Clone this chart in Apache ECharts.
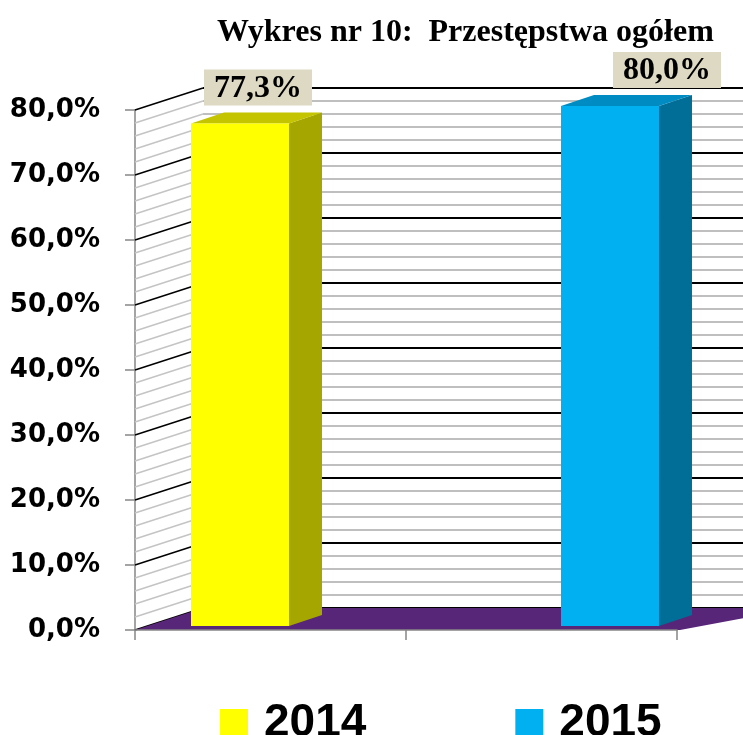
<!DOCTYPE html>
<html>
<head>
<meta charset="utf-8">
<script src="https://cdn.jsdelivr.net/npm/echarts@6/dist/echarts.min.js"></script>
<style>
  html, body { margin: 0; padding: 0; background: #fff; }
  #chart { width: 743px; height: 735px; }
</style>
</head>
<body>
<div id="chart"></div>
<script>
// dane wykresu
const categories = ['2014', '2015'];
const values = [77.3, 80.0];
const valueLabels = ['77,3%', '80,0%'];
const yTicks = [0, 10, 20, 30, 40, 50, 60, 70, 80];
// linie siatki na ścianach (co 2%)
const wallLines = [0, 2, 4, 6, 8, 10, 12, 14, 16, 18, 20, 22, 24, 26, 28, 30, 32, 34, 36, 38,
  40, 42, 44, 46, 48, 50, 52, 54, 56, 58, 60, 62, 64, 66, 68, 70, 72, 74, 76, 78, 80];

// style słupków 3D
const barColors = [
  { front: '#FFFF00', side: '#A6A600', top: '#C4C400' },
  { front: '#00B0F0', side: '#006E96', top: '#008CC2' },
];
const labelShift = [18, 57];
const DEPTH = [68, -22]; // głębokość ścian
const BAR_DEPTH = [33, -11];
const BAR_LIFT = 4;
const BAR_W = 98;

const chart = echarts.init(document.getElementById('chart'));

function wallItem(params, api) {
  const cs = params.coordSys;
  const v = api.value(1);
  const y = api.coord([0, v])[1];
  const x0 = cs.x;
  const major = v % 10 === 0;
  const children = [
    {
      type: 'line',
      z2: 1,
      shape: { x1: x0, y1: y, x2: x0 + DEPTH[0], y2: y + DEPTH[1] },
      style: { stroke: major ? '#000' : '#C4C4C4', lineWidth: 1.5 },
    },
    {
      type: 'line',
      z2: 1,
      shape: { x1: x0 + DEPTH[0], y1: y + DEPTH[1], x2: x0 + cs.width + 120, y2: y + DEPTH[1] },
      style: { stroke: major ? '#000' : '#BFBFBF', lineWidth: 2 },
    },
  ];
  if (v === 0) {
    children.push({
      type: 'polygon',
      z2: 5,
      shape: {
        points: [
          [x0, y],
          [x0 + DEPTH[0], y + DEPTH[1]],
          [x0 + cs.width + 120, y + DEPTH[1]],
          [x0 + cs.width + 3, y],
        ],
      },
      style: { fill: '#582678' },
    });
  }
  return { type: 'group', children: children };
}

function barItem(idx) {
  return function (params, api) {
    const c = barColors[idx];
    const base = api.coord([api.value(0), 0]);
    const top = api.coord([api.value(0), api.value(1)]);
    const l = base[0] - BAR_W / 2;
    const r = base[0] + BAR_W / 2;
    const yt = top[1] - BAR_LIFT;
    const yb = base[1] - BAR_LIFT;
    const dx = BAR_DEPTH[0];
    const dy = BAR_DEPTH[1];
    return {
      type: 'group',
      children: [
        {
          type: 'polygon',
          shape: { points: [[r, yt], [r + dx, yt + dy], [r + dx, yb + dy], [r, yb]] },
          style: { fill: c.side },
        },
        {
          type: 'polygon',
          shape: { points: [[l, yt], [l + dx, yt + dy], [r + dx, yt + dy], [r, yt]] },
          style: { fill: c.top },
        },
        {
          type: 'rect',
          shape: { x: l, y: yt, width: BAR_W, height: yb - yt },
          style: { fill: c.front },
        },
        {
          type: 'text',
          style: {
            x: base[0] + labelShift[idx],
            y: yt - 18,
            text: valueLabels[idx],
            textAlign: 'center',
            textVerticalAlign: 'bottom',
            font: 'bold 32px "Liberation Serif", "Times New Roman", serif',
            fill: '#000',
            backgroundColor: '#DDD9C3',
            padding: [3, 10, 1, 10],
          },
        },
      ],
    };
  };
}

const option = {
  animation: false,
  title: {
    text: 'Wykres nr 10:  Przestępstwa ogółem',
    left: 212,
    top: 12,
    textStyle: {
      fontFamily: '"Liberation Serif", "Times New Roman", serif',
      fontWeight: 'bold',
      fontSize: 32,
      color: '#000',
    },
  },
  legend: {
    data: categories,
    left: 220,
    top: 700,
    padding: 0,
    icon: 'rect',
    itemWidth: 28,
    itemHeight: 28,
    itemGap: 149,
    textStyle: {
      fontFamily: '"Liberation Sans", Arial, sans-serif',
      fontWeight: 'bold',
      fontSize: 46,
      lineHeight: 46,
      color: '#000',
      padding: [0, 0, 0, 11],
    },
  },
  grid: {
    left: 135,
    right: 66,
    top: 110,
    bottom: 105,
  },
  xAxis: [
    {
      type: 'category',
      position: 'bottom',
      show: true,
      data: categories,
      z: 10,
      axisLine: { show: true, onZero: false, lineStyle: { color: '#868686', width: 1.5 } },
      axisTick: { show: true, length: 10, lineStyle: { color: '#868686', width: 1.5 } },
      axisLabel: { show: false },
      splitLine: { show: false },
    },
    {
      type: 'value',
      position: 'top',
      show: false,
      min: -0.2838,
      max: 1.1811,
      axisLine: { onZero: false },
    },
  ],
  yAxis: {
    type: 'value',
    min: yTicks[0],
    max: yTicks[yTicks.length - 1],
    interval: 10,
    axisLine: { show: true, onZero: false, lineStyle: { color: '#868686', width: 1.5 } },
    axisTick: { show: true, length: 10, lineStyle: { color: '#868686', width: 1.5 } },
    splitLine: { show: false },
    axisLabel: {
      margin: 35,
      color: '#000',
      fontFamily: '"DejaVu Sans", Verdana, sans-serif',
      fontWeight: 'bold',
      fontSize: 26,
      formatter: (v) => v.toFixed(1).replace('.', ',') + '%',
    },
  },
  series: [
    {
      name: 'sciany',
      type: 'custom',
      xAxisIndex: 1,
      clip: false,
      silent: true,
      z: 1,
      renderItem: wallItem,
      encode: { x: 0, y: 1 },
      data: wallLines.map((v) => [0, v]),
    },
  ].concat(
    categories.map((c, i) => ({
      name: c,
      type: 'custom',
      xAxisIndex: 1,
      clip: false,
      z: 3,
      itemStyle: { color: barColors[i].front },
      renderItem: barItem(i),
      encode: { x: 0, y: 1 },
      data: [[i, values[i]]],
    }))
  ),
};

chart.setOption(option);
</script>
</body>
</html>
